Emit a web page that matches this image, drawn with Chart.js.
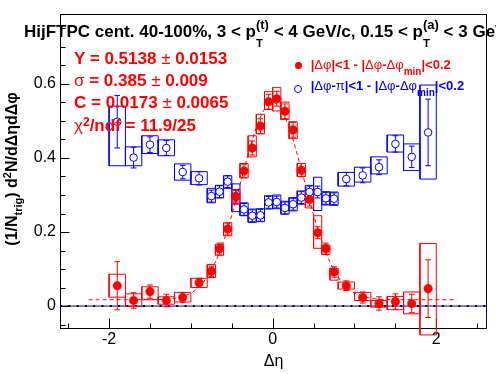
<!DOCTYPE html>
<html><head><meta charset="utf-8">
<script src="https://cdn.jsdelivr.net/npm/chart.js@4"></script>
<style>
html,body{margin:0;padding:0;background:#fff;overflow:hidden;width:496px;height:374px;}
#wrap{position:relative;width:496px;height:374px;overflow:hidden;}
canvas{position:absolute;left:0;top:0;}
.t{position:absolute;white-space:nowrap;font-family:"Liberation Sans",Arial,sans-serif;}
.z{display:inline-block;width:0;white-space:nowrap;}
.n{font-weight:normal;}
</style></head>
<body><div id="wrap">
<canvas id="c" width="496" height="374"></canvas>
<div class="t" style="left:24px;top:22.4px;font-weight:bold;font-size:17px;line-height:20px;color:#000">HijFTPC cent. 40-100%, 3 &lt; p<span class="z"><span style="position:relative;top:9.5px;font-size:11.5px">T</span></span><span style="position:relative;top:-8.3px;font-size:13px">(t)</span> &lt; 4 GeV/c, 0.15 &lt; p<span class="z"><span style="position:relative;top:9.5px;font-size:11.5px">T</span></span><span style="position:relative;top:-8.3px;font-size:13px">(a)</span> &lt; 3 GeV/c</div>
<div class="t" style="left:74px;top:49.1px;font-weight:bold;font-size:17px;line-height:20px;color:#f00">Y = 0.5138 <span class="n">±</span> 0.0153</div>
<div class="t" style="left:74px;top:70.6px;font-weight:bold;font-size:17px;line-height:20px;color:#f00"><span class="n">σ</span> = 0.385 <span class="n">±</span> 0.009</div>
<div class="t" style="left:74px;top:93.1px;font-weight:bold;font-size:17px;line-height:20px;color:#f00">C = 0.0173 <span class="n">±</span> 0.0065</div>
<div class="t" style="left:74px;top:115.6px;font-weight:bold;font-size:17px;line-height:20px;color:#f00"><span class="n">χ</span><span style="position:relative;top:-4.5px;font-size:12px">2</span>/ndf = 11.9/25</div>
<div style="position:absolute;left:294.5px;top:61.5px;width:7px;height:7px;border-radius:50%;background:#f00"></div>
<div style="position:absolute;left:294px;top:85.3px;width:6px;height:6px;border-radius:50%;border:1px solid #00f;background:#fff"></div>
<div class="t" style="left:310.7px;top:56.5px;font-weight:bold;font-size:13px;line-height:16px;color:#f00">|<span class="n">Δφ</span>|&lt;1 - |<span class="n">Δφ</span>-<span class="n">Δφ</span><span style="position:relative;top:6px;font-size:10px">min</span>|&lt;0.2</div>
<div class="t" style="left:310.7px;top:77.8px;font-weight:bold;font-size:13px;line-height:16px;color:#00f">|<span class="n">Δφ</span>-<span class="n">π</span>|&lt;1 - |<span class="n">Δφ</span>-<span class="n">Δφ</span><span style="position:relative;top:6px;font-size:10px">min</span>|&lt;0.2</div>
<div class="t" style="left:4px;top:319px;width:300px;text-align:center;font-weight:bold;font-size:16px;line-height:16px;color:#000;transform-origin:0 0;transform:rotate(-90deg)">(1/N<span style="position:relative;top:5px;font-size:11px">trig</span>) d<span style="position:relative;top:-6px;font-size:11px">2</span>N/dΔηdΔφ</div>
</div>
<script>
// ---- data ----
const etaCenters = [-1.9,-1.7,-1.5,-1.3,-1.1,-0.9,-0.75,-0.65,-0.55,-0.45,-0.35,-0.25,-0.15,-0.05,0.05,0.15,0.25,0.35,0.45,0.55,0.65,0.75,0.9,1.1,1.3,1.5,1.7,1.9];
const binHalfWidth = [0.1,0.1,0.1,0.1,0.1,0.1,0.05,0.05,0.05,0.05,0.05,0.05,0.05,0.05,0.05,0.05,0.05,0.05,0.05,0.05,0.05,0.05,0.1,0.1,0.1,0.1,0.1,0.1];

const nearVals  = [0.055,0.015,0.039,0.015,0.023,0.063,0.094,0.155,0.208,0.295,0.365,0.427,0.486,0.552,0.560,0.526,0.476,0.367,0.288,0.198,0.155,0.092,0.055,0.023,0.007,0.012,0.007,0.047];
const nearErr   = [0.065,0.021,0.018,0.017,0.013,0.012,0.014,0.015,0.016,0.018,0.018,0.019,0.020,0.020,0.020,0.020,0.020,0.018,0.018,0.016,0.015,0.014,0.013,0.015,0.018,0.021,0.025,0.078];
const nearSysLo = [0.024,-0.001,0.017,0.005,0.011,0.050,0.077,0.137,0.190,0.275,0.346,0.403,0.465,0.531,0.527,0.504,0.452,0.350,0.265,0.156,0.139,0.070,0.046,0.015,-0.003,-0.010,-0.021,-0.078];
const nearSysHi = [0.086,0.033,0.052,0.025,0.037,0.075,0.112,0.167,0.225,0.315,0.385,0.460,0.518,0.579,0.590,0.551,0.498,0.385,0.310,0.244,0.165,0.102,0.065,0.037,0.015,0.026,0.038,0.169];

const awayVals  = [0.498,0.401,0.436,0.427,0.362,0.345,0.297,0.309,0.336,0.297,0.261,0.244,0.245,0.280,0.281,0.265,0.275,0.293,0.308,0.308,0.291,0.290,0.343,0.353,0.375,0.438,0.403,0.469];
const awayErr   = [0.071,0.028,0.021,0.020,0.018,0.018,0.016,0.016,0.016,0.016,0.016,0.016,0.016,0.016,0.016,0.016,0.016,0.016,0.016,0.016,0.016,0.016,0.018,0.020,0.020,0.022,0.029,0.090];
const awaySysLo = [0.379,0.379,0.412,0.406,0.340,0.328,0.279,0.292,0.318,0.255,0.244,0.226,0.228,0.262,0.263,0.248,0.257,0.275,0.290,0.258,0.273,0.272,0.324,0.335,0.357,0.416,0.366,0.343];
const awaySysHi = [0.540,0.430,0.460,0.449,0.384,0.363,0.318,0.326,0.352,0.330,0.279,0.262,0.263,0.298,0.300,0.283,0.293,0.311,0.326,0.348,0.309,0.308,0.361,0.375,0.403,0.462,0.438,0.597];

const fitEta = [-2.25,-1.5,-1.2,-1.0,-0.9,-0.8,-0.7,-0.6,-0.5,-0.4,-0.3,-0.2,-0.1,0,0.1,0.2,0.3,0.4,0.5,0.6,0.7,0.8,0.9,1.0,1.2,1.5,2.25];
const fitVal = [0.017,0.0175,0.021,0.035,0.052,0.079,0.119,0.175,0.246,0.327,0.410,0.482,0.532,0.550,0.532,0.482,0.410,0.327,0.246,0.175,0.119,0.079,0.052,0.035,0.021,0.0175,0.017];

const xTickLabels = [-2, 0, 2];
const yTickLabels = [0, 0.2, 0.4, 0.6];
const xMin = -2.6, xMax = 2.62, yMin = -0.062, yMax = 0.79;

// ---- builders ----
const capHalf = 0.035;
function boxPath(lo, hi) {
  const p = [];
  etaCenters.forEach((c, i) => {
    const a = c - binHalfWidth[i], b = c + binHalfWidth[i];
    p.push({x:a,y:lo[i]},{x:b,y:lo[i]},{x:b,y:hi[i]},{x:a,y:hi[i]},{x:a,y:lo[i]},{x:c,y:null});
  });
  return p;
}
function errPath(v, e) {
  const p = [];
  etaCenters.forEach((c, i) => {
    const lo = v[i]-e[i], hi = v[i]+e[i];
    p.push({x:c,y:lo},{x:c,y:hi},{x:c,y:null},
           {x:c-capHalf,y:hi},{x:c+capHalf,y:hi},{x:c,y:null},
           {x:c-capHalf,y:lo},{x:c+capHalf,y:lo},{x:c,y:null});
  });
  return p;
}
const pts = v => etaCenters.map((c,i)=>({x:c,y:v[i]}));

const RED = '#ff0000', BLUE = '#0000ff', NAVY = '#000080';

const frameTicks = {
  id:'frameTicks',
  beforeDatasetsDraw(chart){
    const {ctx, chartArea:a, scales:{x,y}} = chart;
    ctx.save();
    ctx.strokeStyle='#000'; ctx.lineWidth=1;
    const L=Math.round(a.left)+0.5, R=Math.round(a.right)-0.5, T=Math.round(a.top)+0.5, B=Math.round(a.bottom)-0.5;
    ctx.strokeRect(L,T,R-L,B-T);
    ctx.beginPath();
    for (let k=Math.ceil(x.min/0.5); k<=Math.floor(x.max/0.5); k++){
      const px=Math.round(x.getPixelForValue(k*0.5))+0.5;
      const len=(k%4===0)?10:5;
      ctx.moveTo(px,B); ctx.lineTo(px,B-len);
    }
    for (let k=Math.ceil(y.min/0.05-1e-9); k<=Math.floor(y.max/0.05+1e-9); k++){
      const py=Math.round(y.getPixelForValue(k*0.05))+0.5;
      const len=(k%4===0)?9:5;
      ctx.moveTo(L,py); ctx.lineTo(L+len,py);
    }
    ctx.stroke();
    ctx.restore();
  }
};

Chart.defaults.font.family = "'Liberation Sans', Arial, sans-serif";
Chart.defaults.color = '#000';

new Chart(document.getElementById('c'), {
  type:'line',
  data:{datasets:[
    {label:'near', data:pts(nearVals), showLine:false, pointRadius:4.3, pointBackgroundColor:RED, pointBorderColor:RED, pointBorderWidth:0.5, order:0},
    {label:'away', data:pts(awayVals), showLine:false, pointRadius:3.8, pointBackgroundColor:'#fff', pointBorderColor:BLUE, pointBorderWidth:1, order:1},
    {label:'nearErr', data:errPath(nearVals,nearErr), borderColor:RED, borderWidth:1, pointRadius:0, spanGaps:false, order:2},
    {label:'awayErr', data:errPath(awayVals,awayErr), borderColor:BLUE, borderWidth:1, pointRadius:0, spanGaps:false, order:3},
    {label:'fit', data:fitEta.map((e,i)=>({x:e,y:fitVal[i]})), borderColor:RED, borderWidth:1, borderDash:[4,3], pointRadius:0, cubicInterpolationMode:'monotone', order:4},
    {label:'nearSys', data:boxPath(nearSysLo,nearSysHi), borderColor:RED, borderWidth:1, pointRadius:0, spanGaps:false, clip:false, order:5},
    {label:'awaySys', data:boxPath(awaySysLo,awaySysHi), borderColor:BLUE, borderWidth:1, pointRadius:0, spanGaps:false, order:6},
    {label:'zeroDots', data:[{x:xMin,y:0},{x:xMax,y:0}], borderColor:'#000040', borderWidth:2, borderDash:[2,6.3], pointRadius:0, order:7},
    {label:'zero', data:[{x:xMin,y:0},{x:xMax,y:0},{x:xMax,y:yMin}], borderColor:NAVY, borderWidth:1, pointRadius:0, order:8}
  ]},
  options:{
    responsive:false, devicePixelRatio:1, animation:false, events:[],
    layout:{padding:{left:0,right:9,top:7,bottom:0}},
    plugins:{legend:{display:false}, tooltip:{enabled:false}, title:{display:false}},
    scales:{
      x:{type:'linear', min:xMin, max:xMax,
         afterFit(s){s.height=45;},
         afterBuildTicks(s){s.ticks = xTickLabels.map(v=>({value:v}));},
         grid:{display:false, drawTicks:false}, border:{display:false},
         ticks:{padding:1, autoSkip:false, maxRotation:0, font:{size:16}, color:'#000', callback:v=>String(v)},
         title:{display:true, text:'Δη', font:{size:16}, color:'#000', padding:{top:0,bottom:3}}},
      y:{type:'linear', min:yMin, max:yMax,
         afterFit(s){s.width=60;},
         afterBuildTicks(s){s.ticks = yTickLabels.map(v=>({value:v}));},
         grid:{display:false, drawTicks:false}, border:{display:false},
         ticks:{padding:4, autoSkip:false, font:{size:16}, color:'#000', callback:v=>String(v)}}
    }
  },
  plugins:[frameTicks]
});
</script>
</body></html>
